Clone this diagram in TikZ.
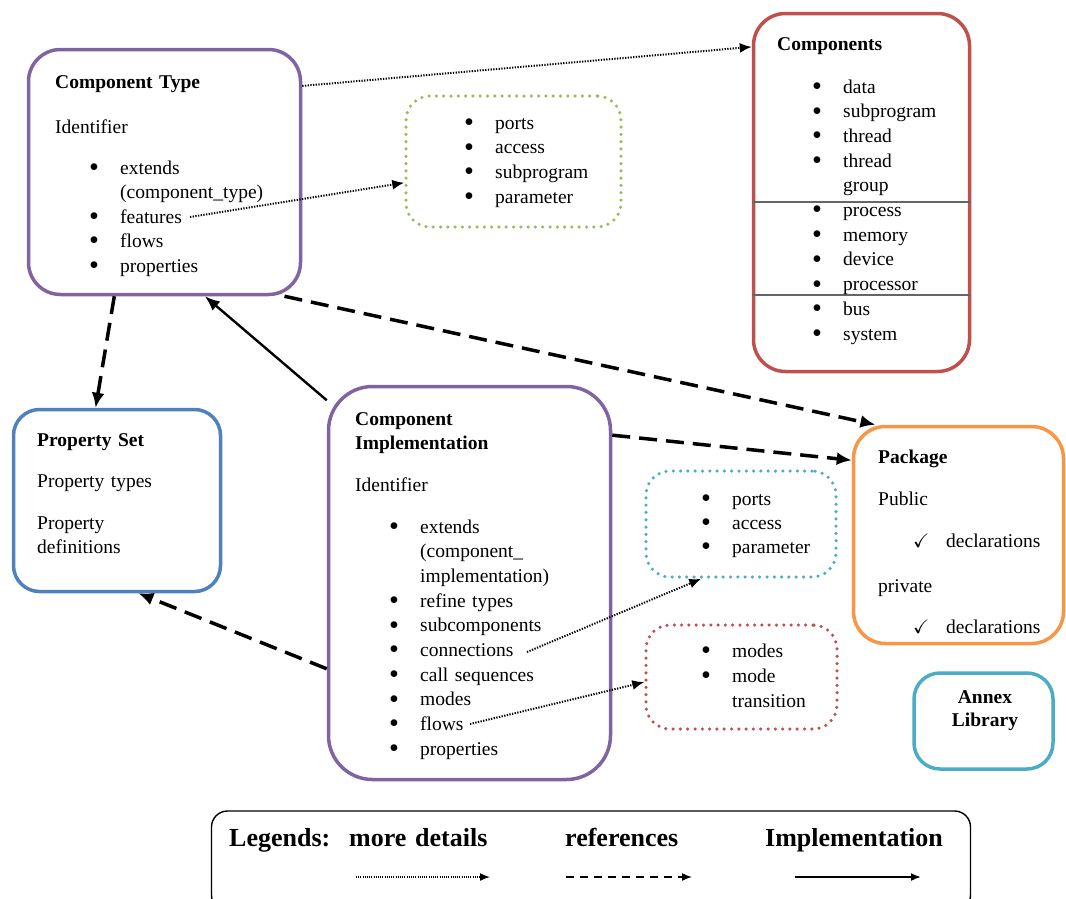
\documentclass[tikz,border=0pt]{standalone}
\usepackage{fontspec}
\setmainfont{Liberation Serif}
\usepackage{amssymb}
\usetikzlibrary{positioning,arrows.meta}

\definecolor{typepurple}{RGB}{128,100,162}
\definecolor{compred}{RGB}{192,80,77}
\definecolor{featgreen}{RGB}{155,187,89}
\definecolor{setblue}{RGB}{79,129,189}
\definecolor{conncyan}{RGB}{75,172,198}
\definecolor{pkgorange}{RGB}{247,150,70}

\newcommand{\bul}{\makebox[31pt][l]{\smash{\raisebox{-2.4pt}{\scalebox{1.45}{\textbullet}}}}}
\newcommand{\chk}{\makebox[33pt][l]{$\checkmark$}}

\begin{document}
\begin{tikzpicture}[x=1pt, y=-1pt,
    every node/.style={font=\fontsize{19.5}{24.5}\selectfont},
    box/.style={draw, line width=3.5pt, rounded corners=#1, inner sep=0pt},
    box/.default=32pt,
    dotbox/.style={draw, line width=3.5pt, line cap=round, dash pattern=on 0pt off 7.3pt, rounded corners=24pt, inner sep=0pt},
    txt/.style={inner sep=0pt, anchor=base west, text width=230pt, align=left},
    ttl/.style={txt, font=\fontsize{19.5}{24}\selectfont\bfseries},
    details/.style={line width=2pt, dash pattern=on 1.3pt off 1.4pt, -{Latex[length=12pt,width=10pt]}},
    refers/.style={line width=3.5pt, dash pattern=on 18pt off 9pt, -{Latex[length=15pt,width=13pt]}},
    implements/.style={line width=2.4pt, -{Latex[length=15pt,width=12pt]}},
    sepline/.style={draw=black!60, line width=1.2pt}]

\useasboundingbox (0,0) rectangle (1066,898);

% boxes
\node[box, draw=typepurple, minimum width=272pt, minimum height=245pt] (ctype) at (164.5,172) {};
\node[box, draw=compred, minimum width=216pt, minimum height=358pt] (comps) at (861.5,192.5) {};
\node[dotbox, draw=featgreen, minimum width=215pt, minimum height=131pt] (feat) at (513.5,161.5) {};
\node[box=26pt, draw=setblue, minimum width=207pt, minimum height=182pt] (pset) at (117,500.5) {};
\node[box=44pt, draw=typepurple, minimum width=282pt, minimum height=393pt] (cimpl) at (469.5,583) {};
\node[dotbox, draw=conncyan, minimum width=190pt, minimum height=106pt] (connbox) at (741,524) {};
\node[dotbox, draw=compred, minimum width=191pt, minimum height=104pt] (modebox) at (741.5,677) {};
\node[box, draw=pkgorange, minimum width=210pt, minimum height=217pt] (pkg) at (958.5,535) {};
\node[box=26pt, draw=conncyan, minimum width=139pt, minimum height=96pt] (annex) at (983.5,721) {};
\node[draw, line width=1.4pt, rounded corners=16pt, minimum width=759pt, minimum height=100pt] (legend) at (591,861) {};

\draw[sepline] (comps.west |- 0,202) -- (comps.east |- 0,202);
\draw[sepline] (comps.west |- 0,295) -- (comps.east |- 0,295);

% Component Type
\node[ttl] (ctypetitle) at (55,88) {Component Type};
\node[txt] (ctypeid) at (55,133) {Identifier};
\node[txt] (ctypelist) at (89,174) {\bul extends\\ \hspace*{31pt}(component\_type)\\ \bul features\\ \bul flows\\ \bul properties};

% Components
\node[ttl] (compstitle) at (777,50) {Components};
\node[txt, text width=150pt, font=\fontsize{19.5}{24.7}\selectfont] (compslist) at (812,93) {\bul data\\ \bul subprogram\\ \bul thread\\ \bul thread\\ \hspace*{31pt}group\\ \bul process\\ \bul memory\\ \bul device\\ \bul processor\\ \bul bus\\ \bul system};

% features
\node[txt, text width=150pt, font=\fontsize{19.5}{24.7}\selectfont] (featlist) at (464,129) {\bul ports\\ \bul access\\ \bul subprogram\\ \bul parameter};

% Property Set
\node[ttl, text width=180pt] (psettitle) at (37,446) {Property Set};
\node[txt, text width=180pt] (psettypes) at (37,487) {Property types};
\node[txt, text width=180pt, font=\fontsize{19.5}{24}\selectfont] (psetdefs) at (37,529) {Property\\ definitions};

% Component Implementation
\node[ttl] (cimpltitle) at (355,425) {Component\\ Implementation};
\node[txt] (cimplid) at (355,491) {Identifier};
\node[txt, font=\fontsize{19.5}{24.67}\selectfont] (cimpllist) at (389,533) {\bul extends\\ \hspace*{31pt}(component\_\\ \hspace*{31pt}implementation)\\ \bul refine types\\ \bul subcomponents\\ \bul connections\\ \bul call sequences\\ \bul modes\\ \bul flows\\ \bul properties};

% connections, modes
\node[txt, text width=130pt, font=\fontsize{19.5}{24}\selectfont] (connlist) at (701,505) {\bul ports\\ \bul access\\ \bul parameter};
\node[txt, text width=130pt, font=\fontsize{19.5}{25}\selectfont] (modelist) at (701,657) {\bul modes\\ \bul mode\\ \hspace*{31pt}transition};

% Package
\node[ttl, text width=150pt] (pkgtitle) at (878,463) {Package};
\node[txt, text width=150pt] (pkgpublic) at (878,505) {Public};
\node[txt, text width=140pt] (pkgpubdecl) at (913,547) {\chk declarations};
\node[txt, text width=150pt] (pkgprivate) at (878,592) {private};
\node[txt, text width=140pt] (pkgprivdecl) at (913,633) {\chk declarations};

% Annex Library
\node[ttl, anchor=base, text width=120pt, align=center, font=\fontsize{19.5}{23}\selectfont\bfseries] (annextitle) at (985,703) {Annex\\ Library};

% legend
\node[ttl, text width=110pt, font=\fontsize{26}{30}\selectfont\bfseries] (legtitle) at (229,846) {Legends:};
\node[ttl, text width=150pt, font=\fontsize{26}{30}\selectfont\bfseries] (legmore) at (349,846) {more details};
\node[ttl, text width=150pt, font=\fontsize{26}{30}\selectfont\bfseries] (legref) at (565,846) {references};
\node[ttl, text width=190pt, font=\fontsize{26}{30}\selectfont\bfseries] (legimpl) at (765,846) {Implementation};

\coordinate (moretail) at (356,877);
\coordinate (morehead) at (490,877);
\coordinate (reftail) at (566,877);
\coordinate (refhead) at (692,877);
\coordinate (impltail) at (795,877);
\coordinate (implhead) at (921,877);

\coordinate (featend) at (190,217);
\coordinate (connend) at (527,652);
\coordinate (flowend) at (470,724);

% connectors
\draw[details] (ctype.32.6) -- (comps.127.6);
\draw[details] (featend) -- (feat.191.3);
\draw[details] (connend) -- (connbox.234.4);
\draw[details] (flowend) -- (modebox.183);
\draw[refers] (ctype.248) -- (pset.103.6);
\draw[refers] (ctype.314.5) -- (pkg.127.6);
\draw[refers] (cimpl.46.4) -- (pkg.145.2);
\draw[refers] (cimpl.211.7) -- (pset.283);
\draw[implements] (cimpl.128.6) -- (ctype.288.2);

\draw[line width=1.5pt, dash pattern=on 1pt off 1.2pt, -{Latex[length=10pt,width=8pt]}] (moretail) -- (morehead);
\draw[line width=1.5pt, dash pattern=on 8pt off 6pt, -{Latex[length=10pt,width=8pt]}] (reftail) -- (refhead);
\draw[line width=1.8pt, -{Latex[length=10pt,width=8pt]}] (impltail) -- (implhead);

\end{tikzpicture}
\end{document}
